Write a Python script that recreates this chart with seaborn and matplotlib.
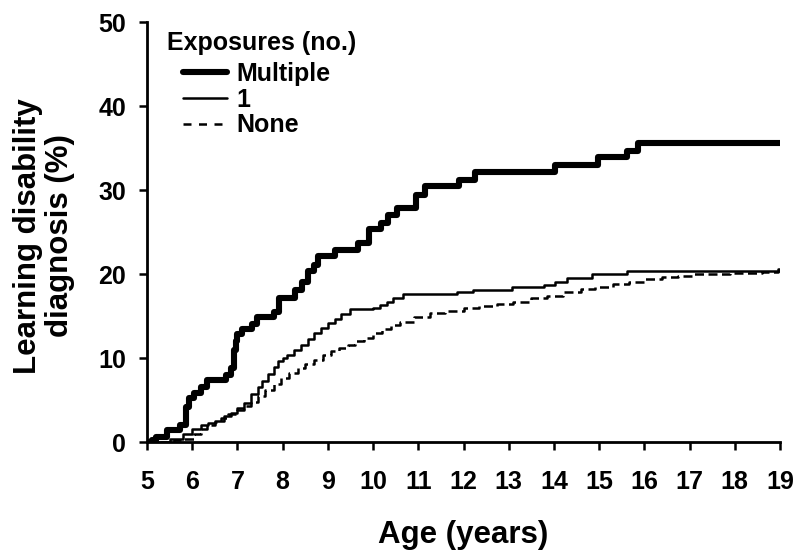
import numpy as np
import pandas as pd
import matplotlib
matplotlib.use("Agg")
import matplotlib.pyplot as plt
from matplotlib.lines import Line2D
import seaborn as sns

# ---- data ----
ages_multi = [5.0, 5.1, 5.2, 5.44, 5.74, 5.87, 5.93, 6.05, 6.2, 6.33, 6.74, 6.85,
              6.93, 6.97, 7.0, 7.1, 7.33, 7.44, 7.81, 7.92, 8.28, 8.42, 8.57, 8.7,
              8.79, 9.16, 9.67, 9.9, 10.18, 10.32, 10.52, 10.95, 11.15, 11.89,
              12.26, 14.02, 14.98, 15.61, 15.87, 19.0]
vals_multi = [0, 0.2, 0.6, 1.4, 2.0, 4.2, 5.2, 5.8, 6.6, 7.4, 8.0, 8.8,
              11.0, 12.0, 12.8, 13.4, 14.1, 14.9, 15.5, 17.1, 18.1, 19.1, 20.3, 21.1,
              22.1, 22.9, 23.7, 25.3, 26.1, 27.0, 27.9, 29.4, 30.5, 31.2,
              32.1, 33.0, 33.9, 34.7, 35.6, 35.6]

ages_one = [5.0, 5.5, 5.8, 6.0, 6.2, 6.35, 6.5, 6.7, 6.85, 7.0, 7.15, 7.3, 7.45,
            7.55, 7.67, 7.8, 7.9, 8.0, 8.1, 8.25, 8.4, 8.55, 8.7, 8.85, 9.0, 9.15,
            9.3, 9.5, 10.0, 10.15, 10.3, 10.45, 10.67, 11.85, 12.22, 13.07, 13.77,
            14.02, 14.28, 14.84, 15.61, 19.0]
vals_one = [0, 0.4, 1.0, 1.5, 2.0, 2.3, 2.5, 3.1, 3.5, 4.0, 4.7, 5.7, 6.5,
            7.3, 8.1, 8.9, 9.6, 10.0, 10.4, 11.0, 11.6, 12.3, 13.0, 13.6, 14.2, 14.7,
            15.2, 15.8, 16.0, 16.3, 16.7, 17.2, 17.6, 17.8, 18.1, 18.4, 18.7,
            19.0, 19.5, 20.0, 20.3, 20.3]

ages_none = [5.0, 5.6, 5.8, 6.04, 6.2, 6.33, 6.5, 6.63, 6.8, 7.0, 7.15, 7.3, 7.45,
             7.6, 7.8, 7.96, 8.15, 8.33, 8.5, 8.7, 8.9, 9.07, 9.25, 9.44, 9.6, 9.81,
             10.0, 10.19, 10.4, 10.6, 10.9, 11.25, 11.6, 12.0, 12.35, 12.75, 13.1,
             13.5, 13.85, 14.2, 14.6, 14.9, 15.3, 15.65, 16.0, 16.4, 16.75, 17.1,
             17.9, 18.6, 18.95, 19.0]
vals_none = [0, 0.2, 0.4, 1.0, 1.5, 2.0, 2.4, 2.8, 3.3, 3.8, 4.3, 4.8, 5.5,
             6.2, 6.9, 7.6, 8.2, 8.8, 9.3, 9.8, 10.3, 10.8, 11.2, 11.6, 12.0, 12.4,
             13.0, 13.5, 13.9, 14.3, 14.9, 15.3, 15.6, 15.9, 16.2, 16.4, 16.7,
             17.1, 17.4, 17.8, 18.2, 18.5, 18.8, 19.1, 19.4, 19.6, 19.8, 20.0,
             20.1, 20.2, 20.6, 20.6]

series_labels = ["Multiple", "1", "None"]
x_ticks = list(range(5, 20))
y_ticks = [0, 10, 20, 30, 40, 50]

# ---- style ----
sns.set_theme(style="ticks")
plt.rcParams["font.family"] = ["Liberation Sans", "DejaVu Sans"]
plt.rcParams["font.weight"] = "bold"
plt.rcParams["text.color"] = "black"
plt.rcParams["axes.labelcolor"] = "black"
plt.rcParams["xtick.color"] = "black"
plt.rcParams["ytick.color"] = "black"
plt.rcParams["axes.edgecolor"] = "black"

fig = plt.figure(figsize=(8, 5.6), dpi=100)
ax = fig.add_axes([147 / 800, 118 / 560, 633 / 800, 420 / 560])

df_multi = pd.DataFrame({"age": ages_multi, "pct": vals_multi})
df_one = pd.DataFrame({"age": ages_one, "pct": vals_one})
df_none = pd.DataFrame({"age": ages_none, "pct": vals_none})

dash_style = (0, (3.6, 1.8))
sns.lineplot(data=df_none, x="age", y="pct", ax=ax, color="black",
             linewidth=1.8, linestyle=dash_style, drawstyle="steps-post",
             estimator=None, sort=False)
sns.lineplot(data=df_one, x="age", y="pct", ax=ax, color="black",
             linewidth=1.8, drawstyle="steps-post", estimator=None, sort=False)
sns.lineplot(data=df_multi, x="age", y="pct", ax=ax, color="black",
             linewidth=4.4, drawstyle="steps-post", estimator=None, sort=False,
             solid_capstyle="round")

ax.set_xlim(5, 19)
ax.set_ylim(0, 50)
ax.set_xticks(x_ticks)
ax.set_yticks(y_ticks)
ax.set_xticklabels([str(t) for t in x_ticks], fontsize=18, fontweight="bold")
ax.set_yticklabels([str(t) for t in y_ticks], fontsize=18, fontweight="bold")
ax.tick_params(axis="both", direction="out", length=6, width=1.8,
               color="black", labelcolor="black")
ax.tick_params(axis="x", pad=14)
ax.tick_params(axis="y", pad=9)
for side in ["top", "right"]:
    ax.spines[side].set_visible(False)
for side in ["left", "bottom"]:
    ax.spines[side].set_linewidth(2.0)
    ax.spines[side].set_color("black")
ax.set_facecolor("white")

ax.set_xlabel("Age (years)", fontsize=22.5, fontweight="bold", va="center",
              color="black")
ax.xaxis.set_label_coords(0.5, (442 - 535) / 420)
ax.set_ylabel("Learning disability\ndiagnosis (%)", fontsize=22.5,
              fontweight="bold", va="center", linespacing=1.05, color="black")
ax.yaxis.set_label_coords((44 - 147) / 633, (442 - 236) / 420)

# legend
fig.text(167 / 800, 1 - 43 / 560, "Exposures (no.)", fontsize=18,
         fontweight="bold", ha="left", va="center", color="black")
handles = [
    Line2D([], [], color="black", linewidth=4.4),
    Line2D([], [], color="black", linewidth=1.8),
    Line2D([], [], color="black", linewidth=1.8, linestyle=(0, (3.2, 3.0))),
]
leg = ax.legend(handles, series_labels, loc="upper left",
                bbox_to_anchor=(183 / 800, 1 - 62 / 560),
                bbox_transform=fig.transFigure, frameon=False,
                prop={"size": 18, "weight": "bold"}, borderpad=0,
                borderaxespad=0, handlelength=1.75, handletextpad=0.4,
                labelspacing=0.07)
for t in leg.get_texts():
    t.set_color("black")

fig.savefig("out.png", dpi=100, facecolor="white")
